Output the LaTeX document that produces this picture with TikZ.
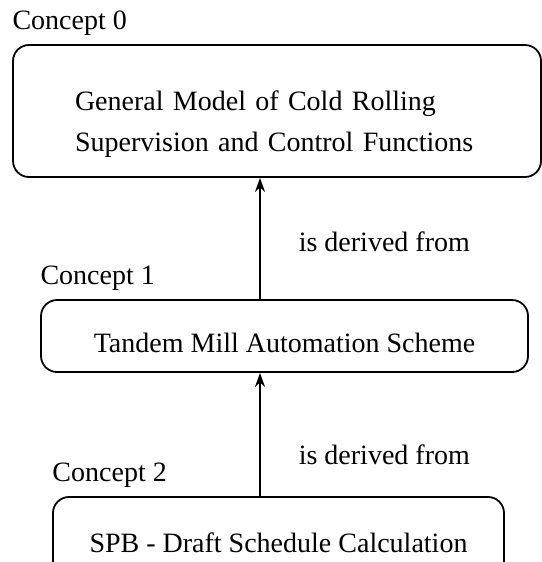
\documentclass[tikz,border=0pt]{standalone}
\usepackage{fontspec}
\setmainfont{Liberation Serif}
\usetikzlibrary{arrows.meta,positioning}

\begin{document}
\begin{tikzpicture}[
  font=\fontsize{14}{17}\selectfont,
  cbox/.style={draw, line width=0.9pt, rounded corners=8pt,
               inner xsep=0pt, inner ysep=0pt},
  tag/.style={anchor=base west, inner sep=0pt},
  arr/.style={-{Stealth[length=7pt,width=5pt]}, line width=0.8pt},
  lab/.style={anchor=base west, inner sep=0pt, xshift=19pt},
]

% ---- Frame -----------------------------------------------------------------
\useasboundingbox (0,0) rectangle (9.524,9.876);
\clip (0,0) rectangle (9.524,9.876);

% ---- Concept 0 -------------------------------------------------------------
\node[cbox, text width=202pt, inner xsep=31pt, minimum height=66pt,
      text height=10pt, text depth=11pt, align=left,
      font=\fontsize{14}{20.5}\selectfont] (c0) at (4.868,7.925)
  {General Model of Cold Rolling\\Supervision and Control Functions};
\node[tag, above=7.5pt of c0.north west, anchor=base west] (t0) {Concept 0};

% ---- Concept 1 -------------------------------------------------------------
\node[cbox, minimum width=243.5pt, minimum height=36pt,
      text height=16pt, text depth=0pt] (c1) at (5.000,3.971)
  {Tandem Mill Automation Scheme};
\node[tag, above=7.5pt of c1.north west, anchor=base west] (t1) {Concept 1};

% ---- Concept 2 -------------------------------------------------------------
\node[cbox, minimum width=225.5pt, minimum height=46pt,
      text height=10pt, text depth=0pt] (c2) at (4.894,0.334)
  {SPB - Draft Schedule Calculation};
\node[tag, above=7.5pt of c2.north west, anchor=base west] (t2) {Concept 2};

% ---- Derivation arrows -----------------------------------------------------
\coordinate (spine) at (4.569,0);
\draw[arr] (c1.north -| spine) -- node[lab, pos=0.39] (d1) {is derived from}
  (c0.south -| spine);
\draw[arr] (c2.north -| spine) -- node[lab, pos=0.256] (d2) {is derived from}
  (c1.south -| spine);

\end{tikzpicture}
\end{document}
